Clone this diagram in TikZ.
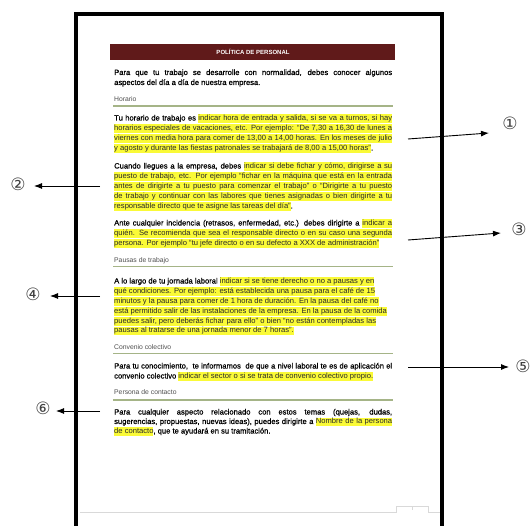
\documentclass[tikz,border=0pt]{standalone}
\usepackage{fontspec}
\setmainfont{Liberation Sans}
\newfontfamily\numfont{DejaVu Sans}
\newfontfamily\bodyfont{Liberation Sans}
\newfontfamily\prefont[FakeBold=0.6]{Liberation Sans}
\usetikzlibrary{arrows.meta}
\definecolor{hly}{RGB}{250,250,55}
\definecolor{bar}{RGB}{96,26,26}
\definecolor{rulec}{RGB}{165,180,135}
\definecolor{headc}{RGB}{80,80,80}
\definecolor{hltext}{RGB}{40,40,40}
\newlength\tw \setlength\tw{278pt}
\newlength\pw \newlength\hw \newlength\sw \newlength\slk \newlength\pbw
\newcommand\hs{\rule[-2.3pt]{0pt}{8.4pt}}
\newcommand\pre[1]{{\prefont\color{black}#1}}
\newcommand\HLn[1]{{\setlength\fboxsep{0pt}\colorbox{hly}{\hs\color{hltext}#1}}}
\newcommand\HLf[1]{{\setlength\fboxsep{0pt}\colorbox{hly}{\makebox[\tw][s]{\hs\color{hltext}#1}}}}
\newcommand\MX[2]{%
  \settowidth\pw{\pre{#1}}%
  \settowidth\sw{\pre{\ }}%
  \settowidth\hw{#2}%
  \setlength\slk{\dimexpr\tw-\pw-\sw-\hw\relax}%
  \setlength\pbw{\dimexpr\pw+\sw+\slk*\number\pw/\number\dimexpr\pw+\hw\relax\relax}%
  \makebox[\pbw][s]{\pre{#1}\ }{\setlength\fboxsep{0pt}\colorbox{hly}{\makebox[\dimexpr\tw-\pbw\relax][s]{\hs\color{hltext}#2}}}}
\newcommand\JF[1]{\makebox[\tw][s]{\pre{#1}}}
\tikzset{
  txt/.style={anchor=base west, inner sep=0pt, font=\bodyfont\fontsize{7.6}{10}\selectfont},
  head/.style={anchor=base west, inner sep=0pt, font=\bodyfont\fontsize{6.8}{8}\selectfont, text=headc},
  hrule/.style={draw=rulec, line width=1.4pt},
  frame/.style={draw=black, line width=3.4pt},
  foot/.style={draw=black!15, line width=0.8pt},
  num/.style={inner sep=0pt, font=\numfont\fontsize{17}{17}\selectfont, text=black!75},
  arr/.style={draw=black, line width=0.9pt, -{Latex[length=8pt,width=6pt]}},
}
\begin{document}
\begin{tikzpicture}[x=1pt,y=-1pt]
\useasboundingbox (0,0) rectangle (530,526);
\fill[white] (0,0) rectangle (530,526);
% page frame
\draw[frame] (76,530) -- (76,14) -- (442,14) -- (442,530);
% footer
\draw[foot] (80,512) -- (396,512) -- (396,506) -- (428,506) -- (428,512) -- (440,512);
\draw[foot] (412,506) -- (412,510);
% title bar
\fill[bar] (110,44) rectangle (395,60);
\node[inner sep=0pt, text=white, font=\bfseries\fontsize{6}{7}\selectfont] (title) at (253,52) {POLÍTICA DE PERSONAL};
% intro
\node[txt] (p1a) at (114,75) {\JF{Para que tu trabajo se desarrolle con normalidad, debes conocer algunos}};
\node[txt] (p1b) at (114,85) {\pre{aspectos del día a día de nuestra empresa.}};
% Horario
\node[head] (h1) at (114,101.5) {Horario};
\draw[hrule] (113,106) -- (393,106);
\node[txt] (p2a) at (114,120.5) {\MX{Tu horario de trabajo es}{indicar hora de entrada y salida, si se va a turnos, si hay}};
\node[txt] (p2b) at (114,130.5) {\HLf{horarios especiales de vacaciones, etc. Por ejemplo: “De 7,30 a 16,30 de lunes a}};
\node[txt] (p2c) at (114,140.5) {\HLf{viernes con media hora para comer de 13,00 a 14,00 horas. En los meses de julio}};
\node[txt] (p2d) at (114,150.5) {\HLn{y agosto y durante las fiestas patronales se trabajará de 8,00 a 15,00 horas”}\pre{.}};
\node[txt] (p3a) at (114,168.5) {\MX{Cuando llegues a la empresa, debes}{indicar si debe fichar y cómo, dirigirse a su}};
\node[txt] (p3b) at (114,178.5) {\HLf{puesto de trabajo, etc. Por ejemplo “fichar en la máquina que está en la entrada}};
\node[txt] (p3c) at (114,188.5) {\HLf{antes de dirigirte a tu puesto para comenzar el trabajo” o “Dirigirte a tu puesto}};
\node[txt] (p3d) at (114,198.5) {\HLf{de trabajo y continuar con las labores que tienes asignadas o bien dirigirte a tu}};
\node[txt] (p3e) at (114,208.5) {\HLn{responsable directo que te asigne las tareas del día”}\pre{ .}};
\node[txt] (p4a) at (114,225.5) {\MX{Ante cualquier incidencia (retrasos, enfermedad, etc.) debes dirigirte a}{indicar a}};
\node[txt] (p4b) at (114,235.5) {\HLf{quién. Se recomienda que sea el responsable directo o en su caso una segunda}};
\node[txt] (p4c) at (114,245.5) {\HLn{persona. Por ejemplo “tu jefe directo o en su defecto a XXX de administración”}};
% Pausas
\node[head] (h2) at (114,262.5) {Pausas de trabajo};
\draw[hrule] (113,266.5) -- (393,266.5);
\node[txt] (p5a) at (114,283.5) {\pre{A lo largo de tu jornada laboral} \HLn{indicar si se tiene derecho o no a pausas y en}};
\node[txt] (p5b) at (114,293.5) {\HLn{qué condiciones. Por ejemplo: está establecida una pausa para el café de 15}};
\node[txt] (p5c) at (114,303.5) {\HLn{minutos y la pausa para comer de 1 hora de duración. En la pausa del café no}};
\node[txt] (p5d) at (114,313.5) {\HLn{está permitido salir de las instalaciones de la empresa. En la pausa de la comida}};
\node[txt] (p5e) at (114,323.5) {\HLn{puedes salir, pero deberás fichar para ello” o bien “no están contempladas las}};
\node[txt] (p5f) at (114,333) {\HLn{pausas al tratarse de una jornada menor de 7 horas”.}};
% Convenio
\node[head] (h3) at (114,349.5) {Convenio colectivo};
\draw[hrule] (113,353.5) -- (393,353.5);
\node[txt] (p6a) at (114,368.5) {\JF{Para tu conocimiento, \ te informamos \ de que a nivel laboral te es de aplicación el}};
\node[txt] (p6b) at (114,378.5) {\pre{convenio colectivo} \HLn{indicar el sector o si se trata de convenio colectivo propio.}};
% Persona
\node[head] (h4) at (114,394.5) {Persona de contacto};
\draw[hrule] (113,400) -- (393,400);
\node[txt] (p7a) at (114,414.5) {\JF{Para cualquier aspecto relacionado con estos temas (quejas, dudas,}};
\node[txt] (p7b) at (114,424) {\MX{sugerencias, propuestas, nuevas ideas), puedes dirigirte a}{Nombre de la persona}};
\node[txt] (p7c) at (114,433.5) {\HLn{de contacto}\pre{, que te ayudará en su tramitación.}};
% circled numbers
\node[num] (n1) at (510,123) {①};
\node[num] (n2) at (18,184) {②};
\node[num] (n3) at (519,229) {③};
\node[num] (n4) at (33,294) {④};
\node[num] (n5) at (523,366) {⑤};
\node[num] (n6) at (43,408) {⑥};
% arrows
\coordinate (s1) at (408,139); \coordinate (e1) at (489,133);
\coordinate (s2) at (100,186); \coordinate (e2) at (34,186);
\coordinate (s3) at (408,240); \coordinate (e3) at (501,233);
\coordinate (s4) at (100,296); \coordinate (e4) at (50,296);
\coordinate (s5) at (408,367); \coordinate (e5) at (509,367);
\coordinate (s6) at (100,411); \coordinate (e6) at (56,411);
\draw[arr] (s1) -- (e1);
\draw[arr] (s2) -- (e2);
\draw[arr] (s3) -- (e3);
\draw[arr] (s4) -- (e4);
\draw[arr] (s5) -- (e5);
\draw[arr] (s6) -- (e6);
\end{tikzpicture}
\end{document}
